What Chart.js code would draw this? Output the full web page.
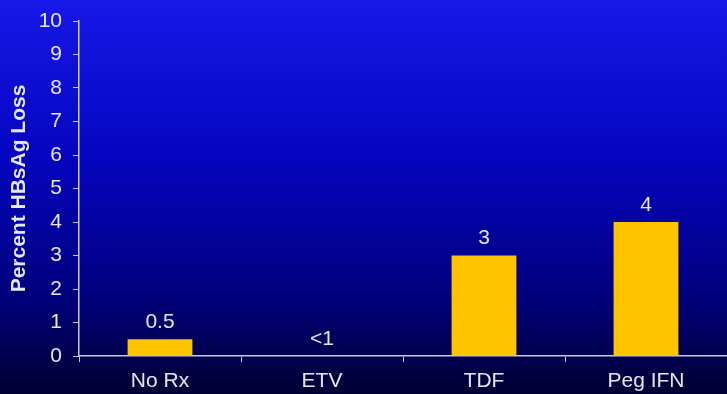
<!DOCTYPE html>
<html>
<head>
<meta charset="utf-8">
<script src="https://cdn.jsdelivr.net/npm/chart.js@4.4.1/dist/chart.umd.min.js"></script>
<style>
  html, body { margin: 0; padding: 0; background: #000040; }
  #wrap { width: 727px; height: 394px; position: relative; }
</style>
</head>
<body>
<div id="wrap"><canvas id="c" width="727" height="394"></canvas></div>
<script>
const categories = ["No Rx", "ETV", "TDF", "Peg IFN"];
const values = [0.5, 0, 3, 4];
const valueLabels = ["0.5", "<1", "3", "4"];
const yTicks = [0, 1, 2, 3, 4, 5, 6, 7, 8, 9, 10];
const yTitle = "Percent HBsAg Loss";

const FONT = "'Liberation Sans', Arial, sans-serif";
const TEXT = "#e6e6ee";
const AXIS = "#c8c8dc";

const bgPlugin = {
  id: 'bg',
  beforeDraw(chart) {
    const ctx = chart.ctx;
    const g = ctx.createLinearGradient(0, 0, 0, chart.height);
    g.addColorStop(0, '#1818e8');
    g.addColorStop(0.4, '#0505c0');
    g.addColorStop(0.75, '#00007c');
    g.addColorStop(1, '#000034');
    ctx.save();
    ctx.fillStyle = g;
    ctx.fillRect(0, 0, chart.width, chart.height);
    ctx.restore();
  }
};

const labelPlugin = {
  id: 'valueLabels',
  afterDatasetsDraw(chart) {
    const ctx = chart.ctx;
    const meta = chart.getDatasetMeta(0);
    ctx.save();
    ctx.font = "21px " + FONT;
    ctx.fillStyle = TEXT;
    ctx.textAlign = 'center';
    ctx.textBaseline = 'middle';
    meta.data.forEach((bar, i) => {
      ctx.fillText(valueLabels[i], bar.x, bar.y - 17);
    });
    ctx.restore();
  }
};

new Chart(document.getElementById('c'), {
  type: 'bar',
  data: {
    labels: categories,
    datasets: [{
      data: values,
      backgroundColor: '#ffc400',
      borderWidth: 0,
      barPercentage: 0.8,
      categoryPercentage: 0.5
    }]
  },
  options: {
    responsive: false,
    animation: false,
    devicePixelRatio: 1,
    layout: { padding: { top: 21, right: 0, left: 0, bottom: 0 } },
    plugins: {
      legend: { display: false },
      tooltip: { enabled: false }
    },
    scales: {
      x: {
        grid: {
          offset: true,
          drawOnChartArea: false,
          drawTicks: true,
          tickLength: 6,
          color: AXIS,
          lineWidth: 1
        },
        border: { color: AXIS, width: 1.5 },
        ticks: {
          color: TEXT,
          font: { family: FONT, size: 21 },
          padding: 7,
          maxRotation: 0
        },
        afterFit(scale) { scale.height = 38; scale.paddingLeft = 0; scale.paddingRight = 0; }
      },
      y: {
        min: 0,
        max: 10,
        afterBuildTicks(scale) { scale.ticks = yTicks.map(v => ({ value: v })); },
        grid: {
          drawOnChartArea: false,
          drawTicks: true,
          tickLength: 6,
          color: AXIS,
          lineWidth: 1
        },
        border: { color: AXIS, width: 1.5 },
        ticks: {
          color: TEXT,
          font: { family: FONT, size: 21 },
          padding: 11
        },
        title: {
          display: true,
          text: yTitle,
          color: TEXT,
          font: { family: FONT, size: 21, weight: 'bold' },
          padding: { top: 7, bottom: 0 }
        },
        afterFit(scale) { scale.width = 79; scale.paddingTop = 0; scale.paddingBottom = 0; }
      }
    }
  },
  plugins: [bgPlugin, labelPlugin]
});
</script>
</body>
</html>
